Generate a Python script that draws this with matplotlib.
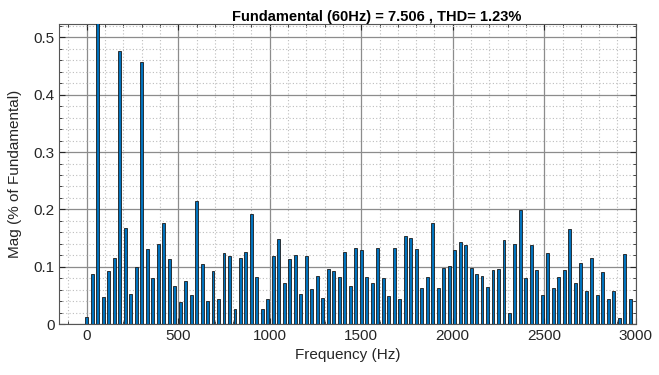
import numpy as np
import matplotlib
matplotlib.use("Agg")
import matplotlib.pyplot as plt
from matplotlib.ticker import MultipleLocator

# harmonic spectrum, 30 Hz steps from 0 to 2970 Hz (values in % of fundamental)
freq_step = 30
mag = [
    0.013, 0.087, 100.0, 0.047, 0.092, 0.115, 0.476, 0.167, 0.053, 0.099,
    0.458, 0.131, 0.080, 0.139, 0.176, 0.114, 0.067, 0.038, 0.075, 0.051,
    0.215, 0.104, 0.040, 0.093, 0.043, 0.124, 0.119, 0.027, 0.115, 0.126,
    0.192, 0.082, 0.026, 0.044, 0.119, 0.149, 0.072, 0.113, 0.121, 0.052,
    0.118, 0.061, 0.084, 0.046, 0.096, 0.092, 0.082, 0.126, 0.066, 0.133,
    0.129, 0.082, 0.072, 0.132, 0.080, 0.048, 0.133, 0.044, 0.153, 0.150,
    0.131, 0.062, 0.082, 0.176, 0.062, 0.098, 0.102, 0.130, 0.143, 0.138,
    0.097, 0.087, 0.083, 0.065, 0.094, 0.096, 0.147, 0.020, 0.140, 0.199,
    0.080, 0.138, 0.094, 0.051, 0.124, 0.063, 0.082, 0.094, 0.165, 0.071,
    0.107, 0.058, 0.116, 0.050, 0.090, 0.044, 0.058, 0.011, 0.123, 0.044,
]
freqs = np.arange(len(mag)) * freq_step

x_ticks = [0, 500, 1000, 1500, 2000, 2500, 3000]
y_ticks = [0, 0.1, 0.2, 0.3, 0.4, 0.5]
y_labels = ["0", "0.1", "0.2", "0.3", "0.4", "0.5"]

plt.rcParams["font.family"] = ["Liberation Sans", "DejaVu Sans"]

fig = plt.figure(figsize=(6.59, 3.75), dpi=100)
ax = fig.add_axes([0.09, 0.136, 0.8747, 0.7992])

ax.bar(freqs, mag, width=16, color="#0072BD", edgecolor="#1a1a1a",
       linewidth=0.6, zorder=3)

ax.set_xlim(-150, 3000)
ax.set_ylim(0, 0.523)
ax.set_xticks(x_ticks)
ax.set_yticks(y_ticks)
ax.set_yticklabels(y_labels)
ax.xaxis.set_minor_locator(MultipleLocator(100))
ax.yaxis.set_minor_locator(MultipleLocator(0.02))

ax.grid(which="major", color="#8c8c8c", linestyle="-", linewidth=0.9, zorder=1)
ax.grid(which="minor", color="#bdbdbd", linestyle=(0, (1, 2)), linewidth=0.8, zorder=1)
ax.tick_params(which="both", direction="in", labelsize=11, colors="#262626",
               top=True, right=True)
ax.tick_params(which="major", length=4, labelcolor="#262626")
ax.tick_params(which="minor", length=2)
for s in ax.spines.values():
    s.set_color("#555555")
    s.set_linewidth(0.8)

ax.set_xlabel("Frequency (Hz)", fontsize=11, color="#262626", labelpad=4)
ax.set_ylabel("Mag (% of Fundamental)", fontsize=11, color="#262626", labelpad=8)
fig.text(0.571, 0.955, "Fundamental (60Hz) = 7.506 , THD= 1.23%",
         ha="center", va="center", fontsize=10.5, fontweight="bold")

fig.savefig("out.png", dpi=100)
